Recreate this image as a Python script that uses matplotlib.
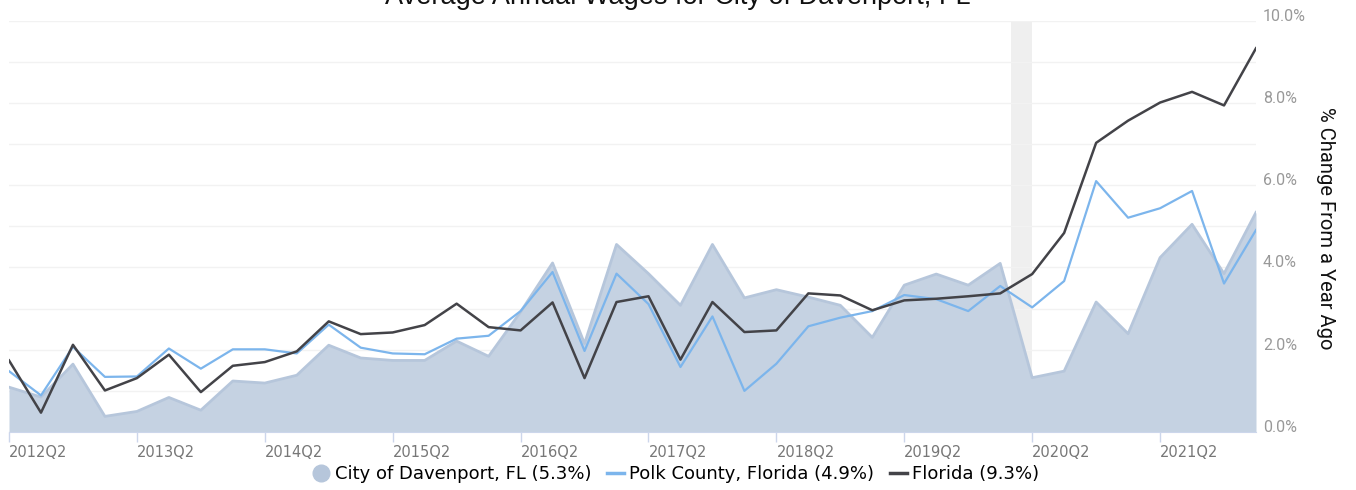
import matplotlib
matplotlib.use("Agg")
import matplotlib.pyplot as plt
from matplotlib.lines import Line2D
import numpy as np

# quarters 2012Q2 .. 2022Q1
quarters = [f"{2012 + (i + 1) // 4}Q{(i + 1) % 4 + 1}" for i in range(40)]
tick_idx = list(range(0, 40, 4))
tick_labels = [quarters[i] for i in tick_idx]

davenport = [1.09, 0.85, 1.65, 0.38, 0.50, 0.84, 0.53, 1.24, 1.19, 1.38,
             2.11, 1.80, 1.74, 1.74, 2.21, 1.84, 2.92, 4.11, 2.15, 4.56,
             3.85, 3.08, 4.56, 3.26, 3.46, 3.28, 3.08, 2.30, 3.57, 3.84,
             3.57, 4.10, 1.32, 1.48, 3.16, 2.39, 4.24, 5.05, 3.85, 5.34]
polk = [1.48, 0.89, 2.07, 1.34, 1.35, 2.03, 1.54, 2.01, 2.01, 1.91,
        2.61, 2.05, 1.91, 1.89, 2.27, 2.34, 2.94, 3.89, 1.97, 3.85,
        3.11, 1.58, 2.81, 1.00, 1.66, 2.57, 2.78, 2.94, 3.33, 3.23,
        2.94, 3.55, 3.03, 3.67, 6.10, 5.21, 5.44, 5.86, 3.61, 4.91]
florida = [1.74, 0.47, 2.12, 1.01, 1.31, 1.88, 0.97, 1.61, 1.70, 1.96,
           2.69, 2.38, 2.42, 2.60, 3.12, 2.55, 2.47, 3.15, 1.31, 3.16,
           3.30, 1.76, 3.16, 2.43, 2.47, 3.37, 3.32, 2.96, 3.20, 3.24,
           3.30, 3.37, 3.84, 4.84, 7.03, 7.57, 8.01, 8.27, 7.94, 9.33]
recession = (31.33, 32.0)  # Feb 2020 - Apr 2020 in quarter index units

W, H = 1356, 490
fig = plt.figure(figsize=(W / 100, H / 100), dpi=100)
ax = fig.add_axes([9 / W, 1 - 432 / H, (1256 - 9) / W, (432 - 20.7) / H])

x = np.arange(len(quarters))
ax.axvspan(*recession, color="#efefef", zorder=0, lw=0)
ax.fill_between(x, davenport, 0, color="#c5d2e2", lw=0, zorder=1)
ax.plot(x, davenport, color="#b6c6db", lw=2, zorder=2)
ax.plot(x, polk, color="#7cb5ec", lw=1.6, zorder=3)
ax.plot(x, florida, color="#434348", lw=1.8, zorder=4)

ax.set_xlim(0, 39)
ax.set_ylim(0, 10)

ax.set_xticks(tick_idx)
ax.set_xticklabels(tick_labels, ha="left",
                   family=["Liberation Sans Narrow", "DejaVu Sans"],
                   fontsize=10.5, color="#777777")
ax.tick_params(axis="x", direction="out", length=7, width=1,
               color="#ccd6eb", pad=2)

ax.yaxis.tick_right()
ax.set_yticks(range(11))
ax.set_yticklabels([f"{v:.1f}%" if v % 2 == 0 else "" for v in range(11)],
                   family=["Roboto", "DejaVu Sans"], fontsize=11.5,
                   color="#999999", va="baseline")
ax.tick_params(axis="y", length=0, pad=5)
ax.grid(axis="y", color="#f2f2f2", lw=1, zorder=0)
ax.set_axisbelow(True)

for s in ("top", "left", "right"):
    ax.spines[s].set_visible(False)
ax.spines["bottom"].set_color("#ccd6eb")

fig.text(1326 / W, 1 - 228 / H, "% Change From a Year Ago", rotation=270,
         ha="center", va="center", fontsize=14.5, color="#111111",
         family=["Roboto", "DejaVu Sans"])
fig.text(0.5, 1 - 4 / H, "Average Annual Wages for City of Davenport, FL",
         ha="center", va="baseline", fontsize=19.5, color="#111111",
         family=["Liberation Sans", "DejaVu Sans"])

handles = [
    Line2D([], [], ls="none", marker="o", markersize=12,
           markerfacecolor="#b6c6db", markeredgecolor="#b6c6db"),
    Line2D([], [], color="#7cb5ec", lw=2.5),
    Line2D([], [], color="#434348", lw=2.5),
]
labels = ["City of Davenport, FL (5.3%)", "Polk County, Florida (4.9%)",
          "Florida (9.3%)"]
fig.legend(handles, labels, loc="center", bbox_to_anchor=(676 / W, 1 - 474 / H),
           ncol=3, frameon=False, handlelength=0.9, handletextpad=0.3,
           columnspacing=0.9,
           prop={"family": ["Liberation Sans Narrow", "DejaVu Sans"], "size": 13})

fig.savefig("out.png", dpi=100)
